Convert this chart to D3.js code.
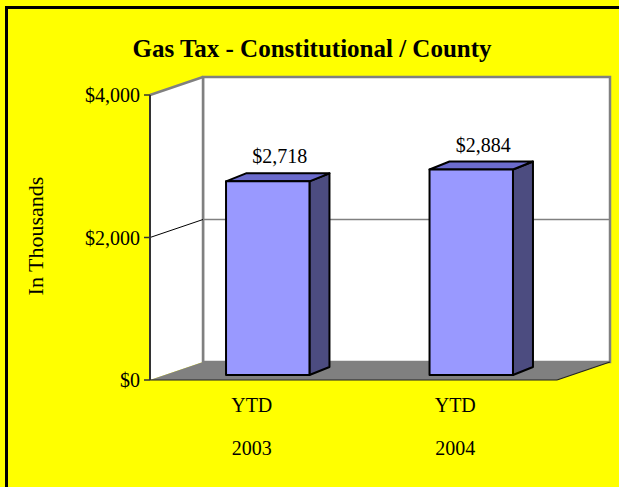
<!DOCTYPE html>
<html><head><meta charset="utf-8">
<script src="https://cdn.jsdelivr.net/npm/d3@7"></script>
<style>html,body{margin:0;padding:0;background:#FFFF00;overflow:hidden}
text{font-family:"Liberation Serif","Times New Roman","DejaVu Serif",serif}</style>
</head><body>
<script>
const categories = ["YTD 2003", "YTD 2004"];
const categoryLines = [["YTD", "2003"], ["YTD", "2004"]];
const values = [2718, 2884];
const tickValues = [0, 2000, 4000];
const title = "Gas Tax - Constitutional / County";
const yTitle = "In Thousands";

const W = 619, H = 487;
const svg = d3.select("body").append("svg").attr("width", W).attr("height", H);

svg.append("rect").attr("x", 0).attr("y", 0).attr("width", W).attr("height", H).attr("fill", "#FFFF00");
svg.append("rect").attr("x", 6.5).attr("y", 7.5).attr("width", 700).attr("height", 600)
  .attr("fill", "#FFFF00").attr("stroke", "#000").attr("stroke-width", 3);

const x0 = 150, x1 = 557, depth = {dx: 53, dy: -18};
const y = d3.scaleLinear().domain([0, 4000]).range([380, 95]);
const x = d3.scaleBand().domain(categories).range([x0, x1]).padding(0);

const g = svg.append("g");
const pts = a => a.map(p => p.join(",")).join(" ");
const yb = v => y(v) + depth.dy;

// back wall
g.append("rect").attr("x", x0 + depth.dx).attr("y", yb(4000)).attr("width", x1 - x0)
  .attr("height", yb(0) - yb(4000)).attr("fill", "#fff").attr("stroke", "#808080").attr("stroke-width", 2.5);
// left wall
g.append("polygon").attr("points", pts([[x0, y(4000)], [x0 + depth.dx, yb(4000)], [x0 + depth.dx, yb(0)], [x0, y(0)]]))
  .attr("fill", "#fff").attr("stroke", "none");
g.append("line").attr("x1", x0).attr("y1", y(4000)).attr("x2", x0 + depth.dx).attr("y2", yb(4000))
  .attr("stroke", "#808080").attr("stroke-width", 2.5);
g.append("line").attr("x1", x0 + depth.dx).attr("y1", yb(4000)).attr("x2", x0 + depth.dx).attr("y2", yb(0))
  .attr("stroke", "#808080").attr("stroke-width", 2.5);

// gridlines (interior)
tickValues.filter(t => t > 0 && t < 4000).forEach(t => {
  g.append("line").attr("x1", x0).attr("y1", y(t)).attr("x2", x0 + depth.dx).attr("y2", yb(t))
    .attr("stroke", "#000").attr("stroke-width", 1);
  g.append("line").attr("x1", x0 + depth.dx).attr("y1", yb(t)).attr("x2", x1 + depth.dx).attr("y2", yb(t))
    .attr("stroke", "#808080").attr("stroke-width", 1.5);
});

// floor
g.append("polygon").attr("points", pts([[x0, y(0)], [x1, y(0)], [x1 + depth.dx, yb(0)], [x0 + depth.dx, yb(0)]]))
  .attr("fill", "#808080");
g.append("line").attr("x1", x1).attr("y1", y(0)).attr("x2", x1 + depth.dx).attr("y2", yb(0))
  .attr("stroke", "#222").attr("stroke-width", 1.2);
g.append("line").attr("x1", x0).attr("y1", y(0)).attr("x2", x1).attr("y2", y(0))
  .attr("stroke", "#222").attr("stroke-width", 1.2);

// bars
const off = {dx: 16, dy: -5}, bd = {dx: 20, dy: -8}, bwRatio = 0.41;
categories.forEach((c, i) => {
  const v = values[i];
  const cx = x(c) + x.bandwidth() / 2 + off.dx;
  const bw = x.bandwidth() * bwRatio;
  const L = cx - bw / 2, R = cx + bw / 2;
  const T = y(v) + off.dy, B = y(0) + off.dy;
  const bg = g.append("g").attr("stroke", "#000").attr("stroke-width", 2).attr("stroke-linejoin", "round");
  bg.append("polygon").attr("points", pts([[R, T], [R + bd.dx, T + bd.dy], [R + bd.dx, B + bd.dy], [R, B]])).attr("fill", "#4C4C80");
  bg.append("polygon").attr("points", pts([[L, T], [L + bd.dx, T + bd.dy], [R + bd.dx, T + bd.dy], [R, T]])).attr("fill", "#6B6BCC");
  bg.append("rect").attr("x", L).attr("y", T).attr("width", bw).attr("height", B - T).attr("fill", "#9999FF");
  g.append("text").attr("x", cx + 12).attr("y", T + bd.dy - 10).attr("text-anchor", "middle")
    .attr("font-size", 20).text("$" + d3.format(",")(v));
});

// y axis
g.append("line").attr("x1", x0).attr("y1", y(4000)).attr("x2", x0).attr("y2", y(0))
  .attr("stroke", "#333").attr("stroke-width", 2);
tickValues.forEach(t => {
  g.append("line").attr("x1", x0 - 6).attr("y1", y(t)).attr("x2", x0).attr("y2", y(t))
    .attr("stroke", "#333").attr("stroke-width", 1.5);
  g.append("text").attr("x", x0 - 10).attr("y", y(t) + 7).attr("text-anchor", "end")
    .attr("font-size", 20).text("$" + d3.format(",")(t));
});

// category labels
categories.forEach((c, i) => {
  const cx = x(c) + x.bandwidth() / 2;
  categoryLines[i].forEach((ln, j) => {
    g.append("text").attr("x", cx).attr("y", 412 + j * 43).attr("text-anchor", "middle")
      .attr("font-size", 20).text(ln);
  });
});

// titles
svg.append("text").attr("x", 312).attr("y", 57).attr("text-anchor", "middle")
  .attr("font-size", 25).attr("font-weight", "bold").text(title);
svg.append("text").attr("transform", "translate(43,236) rotate(-90)").attr("text-anchor", "middle")
  .attr("font-size", 22).text(yTitle);
</script>
</body></html>
